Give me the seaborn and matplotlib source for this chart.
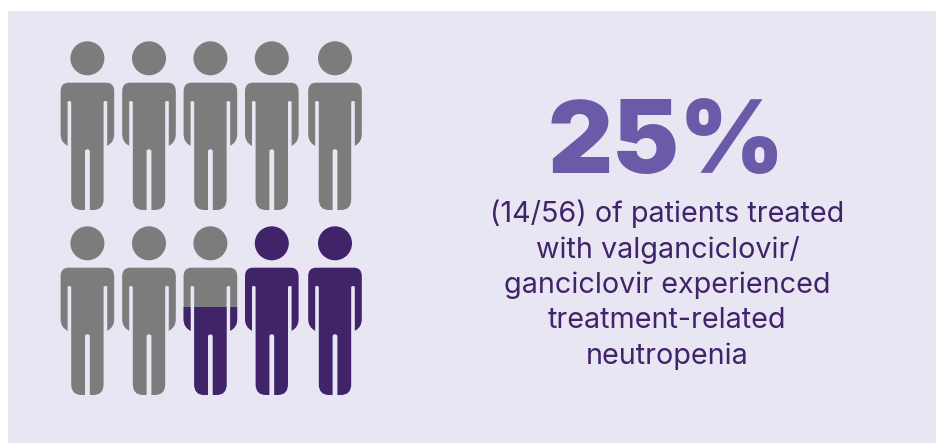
import matplotlib
matplotlib.use("Agg")
import matplotlib.pyplot as plt
from matplotlib.patches import PathPatch, Rectangle
from matplotlib.path import Path
from matplotlib.transforms import Affine2D
import pandas as pd
import seaborn as sns

# Data
percent_label = "25%"
caption_lines = ["(14/56) of patients treated", "with valganciclovir/",
                 "ganciclovir experienced", "treatment-related", "neutropenia"]
person_row = [0, 0, 0, 0, 0, 1, 1, 1, 1, 1]
person_col = [0, 1, 2, 3, 4, 0, 1, 2, 3, 4]
person_fill = [0, 0, 0, 0, 0, 0, 0, 0.52, 1, 1]   # share of each figure that is purple

GREY, PURPLE, ACCENT, PANEL = "#7b7d7c", "#41236a", "#6b5aa8", "#e8e6f3"
col_x = [87.4, 149, 210.4, 271.8, 335]
row_y = [58.3, 243.3]

sns.set_theme(style="white")
plt.rcParams["font.family"] = ["Inter", "DejaVu Sans"]

fig = plt.figure(figsize=(9.36, 4.43), dpi=100, facecolor="white")
ax = fig.add_axes([8 / 936, 0, 928 / 936, 432 / 443])
ax.set_xlim(8, 936)
ax.set_ylim(443, 11)
ax.set_facecolor(PANEL)
sns.despine(ax=ax, left=True, bottom=True, top=True, right=True)
ax.set_xticks([])
ax.set_yticks([])


def body_path():
    """Outline of the figure's body, head centre at the origin."""
    M, L, Q, Z = Path.MOVETO, Path.LINETO, Path.CURVE3, Path.CLOSEPOLY
    half = [
        ((0, 24.4), M), ((19, 24.4), L), ((26.8, 24.4), Q), ((26.8, 33), Q),
        ((26.8, 76), L), ((26.8, 84), Q), ((19.8, 87.5), Q), ((19.8, 43.5), L),
        ((19.8, 42.7), Q), ((18, 42.7), Q), ((17.2, 42.7), Q), ((16.2, 43.5), Q),
        ((16.2, 141), L), ((16.2, 151.7), Q), ((6, 151.7), Q), ((2.4, 151.7), L),
        ((2.4, 93), L), ((2.4, 91), Q), ((0, 91), Q),
    ]
    verts = [p for p, _ in half]
    codes = [c for _, c in half]
    mirrored = [(-x, y) for x, y in reversed(verts[:-1])]
    mcodes = []
    for i in range(1, len(verts)):
        a = len(verts) - 1 - i
        mcodes.append(codes[a + 1] if codes[a + 1] != M else L)
    return Path(verts + mirrored + [verts[0]], codes + mcodes + [Z])


BODY = body_path()
TOP, BOTTOM = -17, 151.7

for r, c, f in zip(person_row, person_col, person_fill):
    tf = Affine2D().translate(col_x[c], row_y[r]) + ax.transData
    if f < 1:
        ax.add_patch(PathPatch(BODY, fc=GREY, ec="none", transform=tf, zorder=2))
    if f > 0:
        p = PathPatch(BODY, fc=PURPLE, ec="none", transform=tf, zorder=3)
        ax.add_patch(p)
        cut = BOTTOM - f * (BOTTOM - TOP)
        clip = Rectangle((-40, cut), 80, BOTTOM - cut + 2, transform=tf)
        p.set_clip_path(clip)

heads = pd.DataFrame({
    "x": [col_x[c] for c in person_col],
    "y": [row_y[r] for r in person_row],
    "state": ["full" if f == 1 else "rest" for f in person_fill],
})
sns.scatterplot(data=heads, x="x", y="y", hue="state",
                palette={"full": PURPLE, "rest": GREY}, s=600, linewidth=0,
                legend=False, ax=ax, zorder=3)
ax.set_xlabel("")
ax.set_ylabel("")

ax.text(666.5, 146, percent_label, ha="center", va="center", fontsize=72.5,
        fontweight=900, color=ACCENT, family=["Inter", "DejaVu Sans"])
ax.text(667.5, 284.5, "\n".join(caption_lines), ha="center", va="center", fontsize=20.7,
        color=PURPLE, linespacing=1.37, family=["Inter", "DejaVu Sans"])

fig.savefig("out.png", dpi=100, facecolor="white")
